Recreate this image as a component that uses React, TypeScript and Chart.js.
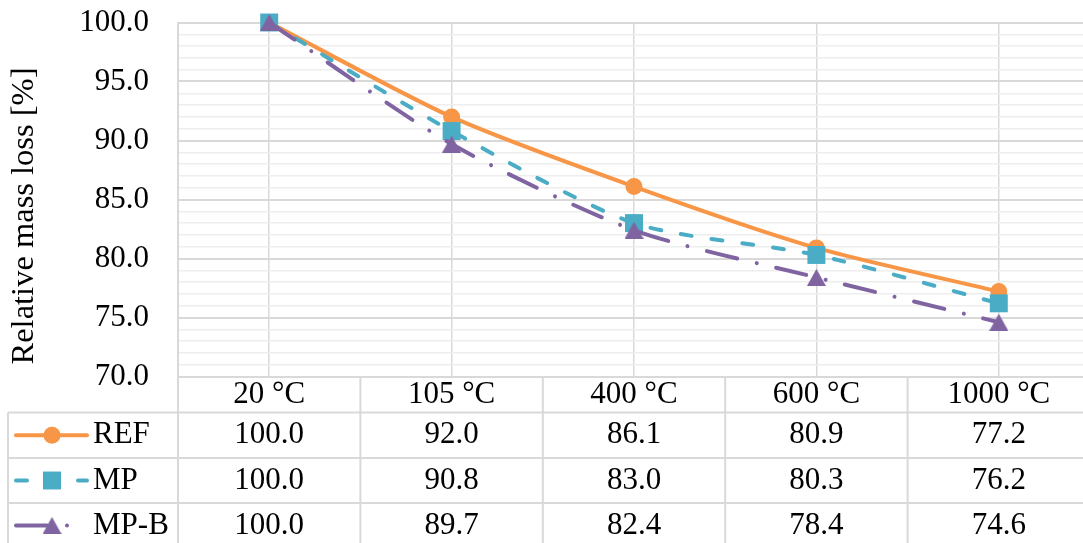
import React, { useEffect, useRef } from 'react';
import { Chart, registerables } from 'chart.js';

Chart.register(...registerables);

// Categories (firing temperatures) and the relative mass of each mix
const categories = ['20 °C', '105 °C', '400 °C', '600 °C', '1000 °C'];
const refValues = [100.0, 92.0, 86.1, 80.9, 77.2];
const mpValues = [100.0, 90.8, 83.0, 80.3, 76.2];
const mpbValues = [100.0, 89.7, 82.4, 78.4, 74.6];
const seriesLabels = ['REF', 'MP', 'MP-B'];
const axisTitle = 'Relative mass loss [%]';
const yMin = 70;
const yMax = 100;
const yMajorStep = 5;
const yMinorStep = 1;

const seriesValues = [refValues, mpValues, mpbValues];

// Styling
const FONT_FAMILY = '"Liberation Serif", "Times New Roman", Times, serif';
const FONT_SIZE = 31;
const TITLE_SIZE = 32.5;
const MAJOR_GRID = '#d9d9d9';
const MINOR_GRID = '#eeeeee';
const TEXT = '#000000';
const LINE_WIDTH = 4;

// Canvas geometry (page pixels; the canvas sits at the page origin)
const CANVAS_W = 1092;
const CANVAS_H = 550;
const PLOT = { left: 178, right: 1090, top: 22.5, bottom: 376.5 };
const TITLE_POS = { x: 33, y: 216 };
const TABLE_ROWS = [412.5, 458, 503, 548];
const TABLE_LEFT = 8;
const KEY = { x0: 16, x1: 87, mid: 52, text: 93 };

type PointShape = 'circle' | 'rect' | 'triangle';
type SeriesStyle = { color: string; dash: number[]; point: PointShape; radius: number };

const styles: SeriesStyle[] = [
  { color: '#F79646', dash: [], point: 'circle', radius: 8.5 },
  { color: '#4BACC6', dash: [11, 20], point: 'rect', radius: 12.7 },
  { color: '#8064A2', dash: [31, 20, 0.01, 20], point: 'triangle', radius: 10.5 },
];

// Triangle marker whose bounding box is centred on the data point
function makeTriangle(color: string, w: number, h: number): HTMLCanvasElement {
  const c = document.createElement('canvas');
  c.width = w;
  c.height = h;
  const g = c.getContext('2d')!;
  g.fillStyle = color;
  g.beginPath();
  g.moveTo(w / 2, 0);
  g.lineTo(w, h);
  g.lineTo(0, h);
  g.closePath();
  g.fill();
  return c;
}

function drawMarker(
  ctx: CanvasRenderingContext2D,
  st: SeriesStyle,
  x: number,
  y: number,
  tri: HTMLCanvasElement
) {
  const r = st.radius;
  ctx.fillStyle = st.color;
  if (st.point === 'triangle') {
    ctx.drawImage(tri, x - tri.width / 2, y - tri.height / 2);
    return;
  }
  ctx.beginPath();
  if (st.point === 'circle') {
    ctx.arc(x, y, r, 0, Math.PI * 2);
  } else {
    const s = r * Math.SQRT1_2;
    ctx.rect(x - s, y - s, 2 * s, 2 * s);
  }
  ctx.fill();
}

export default function App() {
  const canvasRef = useRef<HTMLCanvasElement>(null);

  useEffect(() => {
    const canvas = canvasRef.current;
    if (!canvas) return;
    const font = { family: FONT_FAMILY, size: FONT_SIZE };
    const triangle = makeTriangle(styles[2].color, 19, 17);

    // Axis title plus the data table under the plot: borders, values and series keys
    const dataTablePlugin = {
      id: 'dataTable',
      afterDraw(chart: any) {
        const { ctx, chartArea } = chart;
        const xs = chart.scales.x;
        const n = categories.length;
        const colW = (chartArea.right - chartArea.left) / n;
        const last = TABLE_ROWS[TABLE_ROWS.length - 1];

        ctx.save();
        ctx.fillStyle = TEXT;
        ctx.font = `${TITLE_SIZE}px ${FONT_FAMILY}`;
        ctx.translate(TITLE_POS.x, TITLE_POS.y);
        ctx.rotate(-Math.PI / 2);
        ctx.textAlign = 'center';
        ctx.textBaseline = 'alphabetic';
        ctx.fillText(axisTitle, 0, 0);
        ctx.restore();

        ctx.save();
        ctx.strokeStyle = MAJOR_GRID;
        ctx.lineWidth = 2;
        ctx.setLineDash([]);
        ctx.beginPath();
        TABLE_ROWS.forEach((y) => {
          ctx.moveTo(TABLE_LEFT, y);
          ctx.lineTo(chartArea.right, y);
        });
        for (let i = 0; i <= n; i++) {
          const x = chartArea.left + i * colW;
          ctx.moveTo(x, chartArea.bottom);
          ctx.lineTo(x, last);
        }
        ctx.moveTo(TABLE_LEFT, TABLE_ROWS[0]);
        ctx.lineTo(TABLE_LEFT, last);
        ctx.stroke();

        ctx.font = `${FONT_SIZE}px ${FONT_FAMILY}`;
        ctx.textBaseline = 'middle';
        seriesValues.forEach((vals, r) => {
          const cy = (TABLE_ROWS[r] + TABLE_ROWS[r + 1]) / 2;
          ctx.fillStyle = TEXT;
          ctx.textAlign = 'center';
          vals.forEach((v, c) => ctx.fillText(v.toFixed(1), xs.getPixelForValue(c), cy));

          const st = styles[r];
          ctx.save();
          ctx.strokeStyle = st.color;
          ctx.lineWidth = LINE_WIDTH;
          ctx.lineCap = 'round';
          ctx.setLineDash(st.dash);
          ctx.beginPath();
          ctx.moveTo(KEY.x0, cy);
          ctx.lineTo(KEY.x1, cy);
          ctx.stroke();
          ctx.restore();
          drawMarker(ctx, st, KEY.mid, cy, triangle);

          ctx.fillStyle = TEXT;
          ctx.textAlign = 'left';
          ctx.fillText(seriesLabels[r], KEY.text, cy);
        });
        ctx.restore();
      },
    };

    const chart = new Chart(canvas, {
      type: 'line',
      data: {
        labels: categories,
        datasets: seriesValues.map((vals, i) => ({
          label: seriesLabels[i],
          data: vals,
          borderColor: styles[i].color,
          backgroundColor: styles[i].color,
          borderWidth: LINE_WIDTH,
          borderDash: styles[i].dash,
          borderCapStyle: 'round',
          borderJoinStyle: 'round',
          tension: 0.25,
          fill: false,
          pointStyle: styles[i].point === 'triangle' ? triangle : styles[i].point,
          pointRadius: styles[i].radius,
          pointHoverRadius: styles[i].radius,
          pointBackgroundColor: styles[i].color,
          pointBorderWidth: 0,
          clip: false,
          order: seriesValues.length - i,
        })),
      },
      options: {
        responsive: false,
        animation: false,
        devicePixelRatio: 1,
        events: [],
        layout: {
          autoPadding: false,
          padding: { top: PLOT.top, right: CANVAS_W - PLOT.right, bottom: 0, left: 0 },
        },
        plugins: {
          legend: { display: false },
          tooltip: { enabled: false },
        },
        scales: {
          x: {
            type: 'category',
            offset: true,
            grid: { offset: false, color: MAJOR_GRID, lineWidth: 1.5, drawTicks: false },
            border: { color: MAJOR_GRID, width: 2 },
            ticks: {
              color: TEXT,
              font,
              padding: 0,
              maxRotation: 0,
              minRotation: 0,
              autoSkip: false,
            },
            afterFit: (s: any) => {
              s.height = CANVAS_H - PLOT.bottom;
              s.paddingLeft = 0;
              s.paddingRight = 0;
            },
          },
          y: {
            type: 'linear',
            min: yMin,
            max: yMax,
            grid: {
              color: (c: any) =>
                c.tick && Math.round(c.tick.value) % yMajorStep === 0 ? MAJOR_GRID : MINOR_GRID,
              lineWidth: (c: any) =>
                c.tick && Math.round(c.tick.value) % yMajorStep === 0 ? 2 : 1.5,
              drawTicks: false,
            },
            border: { color: MAJOR_GRID, width: 2 },
            ticks: {
              stepSize: yMinorStep,
              autoSkip: false,
              maxTicksLimit: 1000,
              padding: PLOT.left - 149,
              color: TEXT,
              font,
              callback: (v: any) =>
                Math.round(Number(v)) % yMajorStep === 0 ? Number(v).toFixed(1) : '',
            },
            title: { display: false },
            afterFit: (s: any) => {
              s.width = PLOT.left;
              s.paddingTop = 0;
              s.paddingBottom = 0;
            },
          },
        },
      },
      plugins: [dataTablePlugin],
    });

    return () => chart.destroy();
  }, []);

  return (
    <div
      style={{
        position: 'fixed',
        left: 0,
        top: 0,
        width: 1083,
        height: 543,
        overflow: 'hidden',
        background: '#ffffff',
      }}
    >
      <canvas
        ref={canvasRef}
        width={CANVAS_W}
        height={CANVAS_H}
        style={{ display: 'block', width: CANVAS_W, height: CANVAS_H }}
      />
    </div>
  );
}
